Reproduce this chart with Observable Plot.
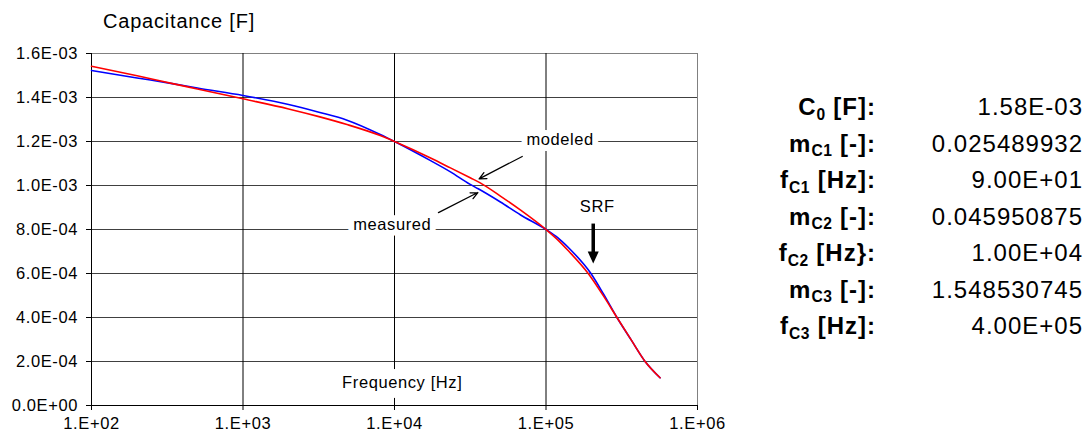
<!DOCTYPE html>
<html>
<head>
<meta charset="utf-8">
<script src="https://cdn.jsdelivr.net/npm/d3@7"></script>
<script src="https://cdn.jsdelivr.net/npm/@observablehq/plot@0.6"></script>
<style>
  body { margin: 0; background: #fff; }
  #wrap { position: relative; width: 1090px; height: 439px; font-family: "Liberation Sans", Arial, sans-serif; color: #000; }
  #chart { position: absolute; left: 0; top: 0; }
  #chart svg text { letter-spacing: 0.6px; }
  .title { position: absolute; left: 103px; top: 11px; font-size: 20px; line-height: 20px; letter-spacing: 0.8px; white-space: nowrap; }
  .row { position: absolute; left: 740px; width: 350px; height: 24px; font-size: 24px; line-height: 24px; letter-spacing: 1px; }
  .lab { position: absolute; right: 214px; top: 0; font-weight: bold; white-space: nowrap; }
  .val { position: absolute; right: 7px; top: 0; white-space: nowrap; }
  .sub { font-size: 0.65em; position: relative; top: 0.3em; letter-spacing: 0.5px; }
</style>
</head>
<body>
<div id="wrap">
  <div id="chart"></div>
  <div class="title">Capacitance [F]</div>
</div>
<script>
// ---- data ----
const xTicks = [1e2, 1e3, 1e4, 1e5, 1e6];
const yTicks = [0, 0.0002, 0.0004, 0.0006, 0.0008, 0.0010, 0.0012, 0.0014, 0.0016];

const measuredFreq = [100, 200, 349, 500, 1000, 2000, 3170, 4860, 8050, 10000, 17300, 23400, 31600, 35700, 50000, 68000, 100000, 120000, 141000, 198000, 240000, 294000, 365000, 451000, 566000];
const measuredCap  = [1.523e-3, 1.489e-3, 1.462e-3, 1.443e-3, 1.409e-3, 1.368e-3, 1.333e-3, 1.297e-3, 1.232e-3, 1.200e-3, 1.113e-3, 1.062e-3, 1.005e-3, 0.985e-3, 0.925e-3, 0.866e-3, 0.800e-3, 0.762e-3, 0.717e-3, 0.600e-3, 0.506e-3, 0.400e-3, 0.298e-3, 0.200e-3, 0.126e-3];

const modeledFreq = [100, 200, 349, 500, 1000, 2000, 3170, 4860, 8050, 10000, 17300, 23400, 31600, 36800, 50000, 68000, 100000, 120000, 141000, 190000, 240000, 294000, 365000, 451000, 566000];
const modeledCap  = [1.542e-3, 1.499e-3, 1.462e-3, 1.439e-3, 1.394e-3, 1.348e-3, 1.313e-3, 1.277e-3, 1.227e-3, 1.200e-3, 1.125e-3, 1.080e-3, 1.035e-3, 1.012e-3, 0.952e-3, 0.888e-3, 0.800e-3, 0.752e-3, 0.702e-3, 0.600e-3, 0.497e-3, 0.400e-3, 0.298e-3, 0.200e-3, 0.126e-3];

const boxedLabels = [
  {text: "modeled", f: 1.24e5, c: 1.206e-3},
  {text: "measured", f: 9.67e3, c: 0.823e-3}
];
const axisTitle = [{text: "Frequency [Hz]", f: 1.125e4, c: 0.1045e-3}];
const srfLabel = [{text: "SRF", f: 2.18e5, c: 0.902e-3}];

const thinArrows = [
  {f1: 6.97e4, c1: 1.132e-3, f2: 3.62e4, c2: 1.030e-3},
  {f1: 1.95e4, c1: 0.877e-3, f2: 3.55e4, c2: 0.968e-3}
];
const srfArrow = [{f: 2.05e5, c1: 0.827e-3, c2: 0.675e-3, tip: 0.645e-3}];

const paramBase  = ["C", "m", "f", "m", "f", "m", "f"];
const paramSub   = ["0", "C1", "C1", "C2", "C2", "C3", "C3"];
const paramUnit  = ["[F]:", "[-]:", "[Hz]:", "[-]:", "[Hz}:", "[-]:", "[Hz]:"];
const paramValue = ["1.58E-03", "0.025489932", "9.00E+01", "0.045950875", "1.00E+04", "1.548530745", "4.00E+05"];

// ---- helpers ----
function fmtY(v) {
  const [m, e] = v.toExponential(1).split("e");
  const s = e[0] === "-" ? "-" : "+";
  return `${m}E${s}${e.replace(/^[-+]/, "").padStart(2, "0")}`;
}
function fmtX(v) {
  const [m, e] = v.toExponential(0).split("e");
  const s = e[0] === "-" ? "-" : "+";
  return `${m}.E${s}${e.replace(/^[-+]/, "").padStart(2, "0")}`;
}
const measured = measuredFreq.map((f, i) => ({f, c: measuredCap[i]}));
const modeled = modeledFreq.map((f, i) => ({f, c: modeledCap[i]}));

const downTriangle = {
  draw(context) {
    context.moveTo(-5.5, -12);
    context.lineTo(5.5, -12);
    context.lineTo(0, 0);
    context.closePath();
  }
};

const chart = Plot.plot({
  width: 1090,
  height: 439,
  marginLeft: 91,
  marginRight: 393,
  marginTop: 53,
  marginBottom: 34,
  style: {fontFamily: '"Liberation Sans", Arial, sans-serif', fontSize: "16.5px", background: "white", color: "black", overflow: "visible"},
  x: {type: "log", domain: [xTicks[0], xTicks[xTicks.length - 1]]},
  y: {domain: [yTicks[0], yTicks[yTicks.length - 1]]},
  marks: [
    Plot.ruleY(yTicks.slice(1, -1), {stroke: "#404040", strokeWidth: 1}),
    Plot.ruleY(yTicks.slice(-1), {stroke: "#808080", strokeWidth: 1}),
    Plot.ruleX(xTicks.slice(1, -1), {stroke: "#000", strokeWidth: 1}),
    Plot.ruleX(xTicks.slice(-1), {stroke: "#808080", strokeWidth: 1}),
    Plot.ruleX(xTicks.slice(0, 1), {stroke: "#000", strokeWidth: 1}),
    Plot.ruleY(yTicks.slice(0, 1), {stroke: "#000", strokeWidth: 1}),
    Plot.axisY({ticks: yTicks, tickFormat: fmtY, tickSize: 5, tickPadding: 8.5, fontSize: 16.5, label: null}),
    Plot.axisX({ticks: xTicks, tickFormat: fmtX, tickSize: 5, tickPadding: 6.5, fontSize: 16.5, label: null}),
    Plot.text(boxedLabels, {x: "f", y: "c", text: "text", fill: "black", stroke: "white", strokeWidth: 12, fontSize: 16.5}),
    Plot.text(axisTitle, {x: "f", y: "c", text: "text", fill: "black", stroke: "white", strokeWidth: 20, fontSize: 16.5}),
    Plot.text(srfLabel, {x: "f", y: "c", text: "text", fill: "black", fontSize: 16.5}),
    Plot.line(measured, {x: "f", y: "c", stroke: "#0000ff", strokeWidth: 1.6, curve: "monotone-x"}),
    Plot.line(modeled, {x: "f", y: "c", stroke: "#ff0000", strokeWidth: 1.6, curve: "monotone-x"}),
    Plot.arrow(thinArrows, {x1: "f1", y1: "c1", x2: "f2", y2: "c2", stroke: "black", strokeWidth: 1.3, headLength: 9, headAngle: 50}),
    Plot.link(srfArrow, {x1: "f", y1: "c1", x2: "f", y2: "c2", stroke: "black", strokeWidth: 3.5}),
    Plot.dot(srfArrow, {x: "f", y: "tip", symbol: downTriangle, fill: "black", stroke: "none", r: 4})
  ]
});
document.getElementById("chart").appendChild(chart);

// ---- parameter table ----
const wrap = document.getElementById("wrap");
const rowCenters = [107, 143.5, 180, 216.5, 253, 289.5, 326];
paramBase.forEach((b, i) => {
  const row = document.createElement("div");
  row.className = "row";
  row.style.top = (rowCenters[i] - 11.7) + "px";
  const lab = document.createElement("span");
  lab.className = "lab";
  lab.append(b);
  const sub = document.createElement("span");
  sub.className = "sub";
  sub.textContent = paramSub[i];
  lab.append(sub, " " + paramUnit[i]);
  const val = document.createElement("span");
  val.className = "val";
  val.textContent = paramValue[i];
  row.append(lab, val);
  wrap.appendChild(row);
});
</script>
</body>
</html>
